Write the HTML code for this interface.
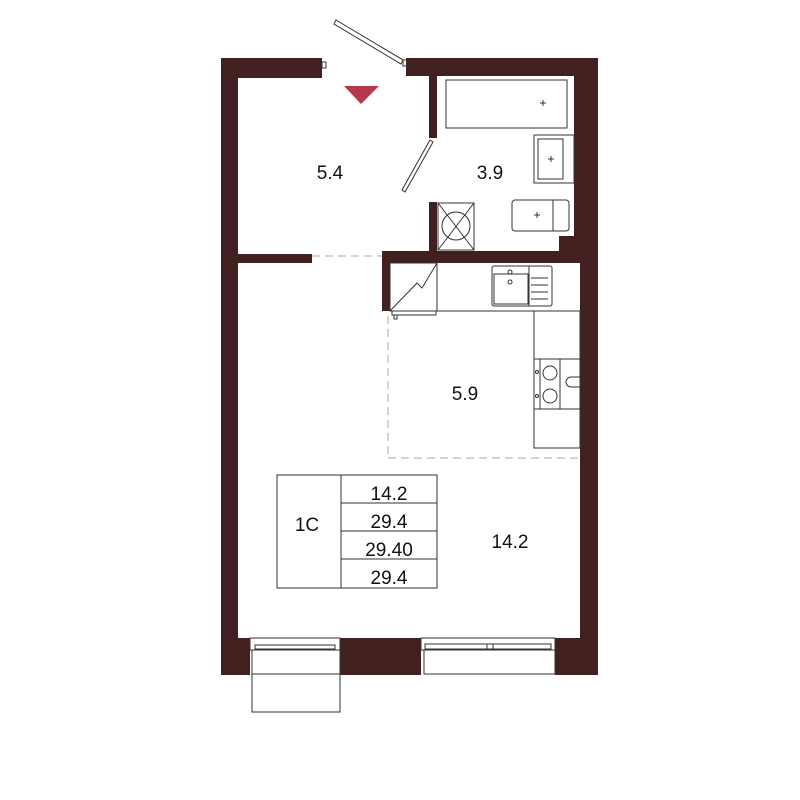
<!DOCTYPE html>
<html><head><meta charset="utf-8"><style>
html,body{margin:0;padding:0;background:#fff;width:800px;height:800px;overflow:hidden}
text{font-family:"Liberation Sans",sans-serif;font-size:19px;fill:#111}
</style></head><body>
<svg width="800" height="800" viewBox="0 0 800 800" xmlns="http://www.w3.org/2000/svg">
<g fill="#42201f">
<!-- left wall -->
<rect x="221" y="58" width="17" height="617"/>
<rect x="221" y="58" width="101" height="20"/>
<!-- top right -->
<rect x="406" y="58" width="192" height="18"/>
<!-- right wall -->
<rect x="574" y="58" width="24" height="194"/>
<rect x="580" y="236" width="18" height="439"/>
<rect x="559" y="236" width="20" height="20"/>
<!-- bathroom left wall -->
<rect x="429" y="76" width="8" height="62"/>
<rect x="429" y="202" width="8" height="55"/>
<!-- bath/kitchen wall -->
<rect x="382" y="251" width="200" height="12"/>
<rect x="382" y="251" width="8" height="60"/>
<!-- partition -->
<rect x="238" y="254" width="74" height="9"/>
<!-- bottom wall -->
<rect x="221" y="638" width="29" height="37"/>
<rect x="340" y="638" width="81" height="37"/>
<rect x="555" y="638" width="43" height="37"/>
</g>
<!-- dashed lines -->
<g stroke="#aaa" stroke-width="1" stroke-dasharray="8,5" fill="none">
<line x1="312" y1="256" x2="382" y2="256"/>
<line x1="388" y1="316" x2="388" y2="458"/>
<line x1="388" y1="458" x2="580" y2="458"/>
</g>
<!-- triangle -->
<polygon points="344,86 379,86 361,104" fill="#b5394a"/>
<g fill="none" stroke="#333" stroke-width="1">
<!-- entry door -->
<polygon points="336,20 403,60 401,64 334,24" fill="#fff"/>
<rect x="403" y="60" width="5" height="6"/>
<rect x="322" y="62" width="4" height="6"/>
<!-- bathroom door -->
<polygon points="430,140 433,142 405,192 402,190" fill="#fff"/>
<!-- bath -->
<rect x="446" y="80" width="121" height="48"/>
<line x1="540" y1="103" x2="546" y2="103"/><line x1="543" y1="100" x2="543" y2="106"/>
<!-- sink -->
<rect x="534" y="135" width="40" height="48"/>
<rect x="538" y="139" width="25" height="40"/>
<line x1="548" y1="159" x2="554" y2="159"/><line x1="551" y1="156" x2="551" y2="162"/>
<!-- toilet -->
<rect x="512" y="200" width="57" height="31" rx="3"/>
<line x1="553" y1="200" x2="553" y2="231"/>
<line x1="534" y1="215" x2="540" y2="215"/><line x1="537" y1="212" x2="537" y2="218"/>
<!-- vent -->
<rect x="438" y="203" width="36" height="47"/>
<circle cx="456" cy="226" r="14"/>
<line x1="438" y1="203" x2="474" y2="250"/><line x1="474" y1="203" x2="438" y2="250"/>
<!-- kitchen counter -->
<line x1="390" y1="311" x2="582" y2="311"/>
<rect x="390" y="263" width="47" height="48"/>
<polyline points="390,311 417,283 422,288 437,263"/>
<rect x="392" y="311" width="44" height="4"/>
<rect x="394" y="315" width="3" height="4"/>
<rect x="492" y="266" width="60" height="40" rx="2"/>
<rect x="494" y="274" width="34" height="30"/>
<line x1="529" y1="266" x2="529" y2="306"/>
<circle cx="510" cy="272" r="2"/><circle cx="510" cy="282" r="2"/>
<line x1="531" y1="278" x2="548" y2="278"/><line x1="531" y1="285" x2="548" y2="285"/>
<line x1="531" y1="292" x2="548" y2="292"/><line x1="531" y1="299" x2="548" y2="299"/>
<!-- right counter -->
<rect x="534" y="311" width="46" height="137"/>
<rect x="534" y="359" width="46" height="50"/>
<line x1="540" y1="359" x2="540" y2="409"/>
<line x1="560" y1="359" x2="560" y2="409"/>
<circle cx="550" cy="373" r="7"/><circle cx="550" cy="396" r="7"/>
<circle cx="537" cy="372" r="1.5"/><circle cx="537" cy="396" r="1.5"/>
<path d="M580,377 H571 A5,5 0 0 0 571,387 H580"/>
<!-- table -->
<rect x="277" y="475" width="160" height="113"/>
<line x1="341" y1="475" x2="341" y2="588"/>
<line x1="341" y1="503" x2="437" y2="503"/>
<line x1="341" y1="531" x2="437" y2="531"/>
<line x1="341" y1="559" x2="437" y2="559"/>
<!-- balcony door -->
<rect x="250" y="638" width="90" height="12" fill="#fff"/>
<rect x="255" y="645" width="80" height="4"/>
<rect x="252" y="650" width="88" height="62"/>
<line x1="252" y1="674" x2="340" y2="674"/>
<!-- window -->
<rect x="421" y="638" width="134" height="12" fill="#fff"/>
<rect x="425" y="644" width="126" height="5"/>
<rect x="424" y="650" width="131" height="24"/>
<line x1="487" y1="644" x2="487" y2="649"/><line x1="493" y1="644" x2="493" y2="649"/>
</g>
<g text-anchor="middle">
<text x="330" y="179">5.4</text>
<text x="490" y="179">3.9</text>
<text x="465" y="400">5.9</text>
<text x="510" y="548">14.2</text>
<text x="307" y="531">1C</text>
<text x="389" y="500">14.2</text>
<text x="389" y="528">29.4</text>
<text x="389" y="556">29.40</text>
<text x="389" y="584">29.4</text>
</g>
</svg>
</body></html>
